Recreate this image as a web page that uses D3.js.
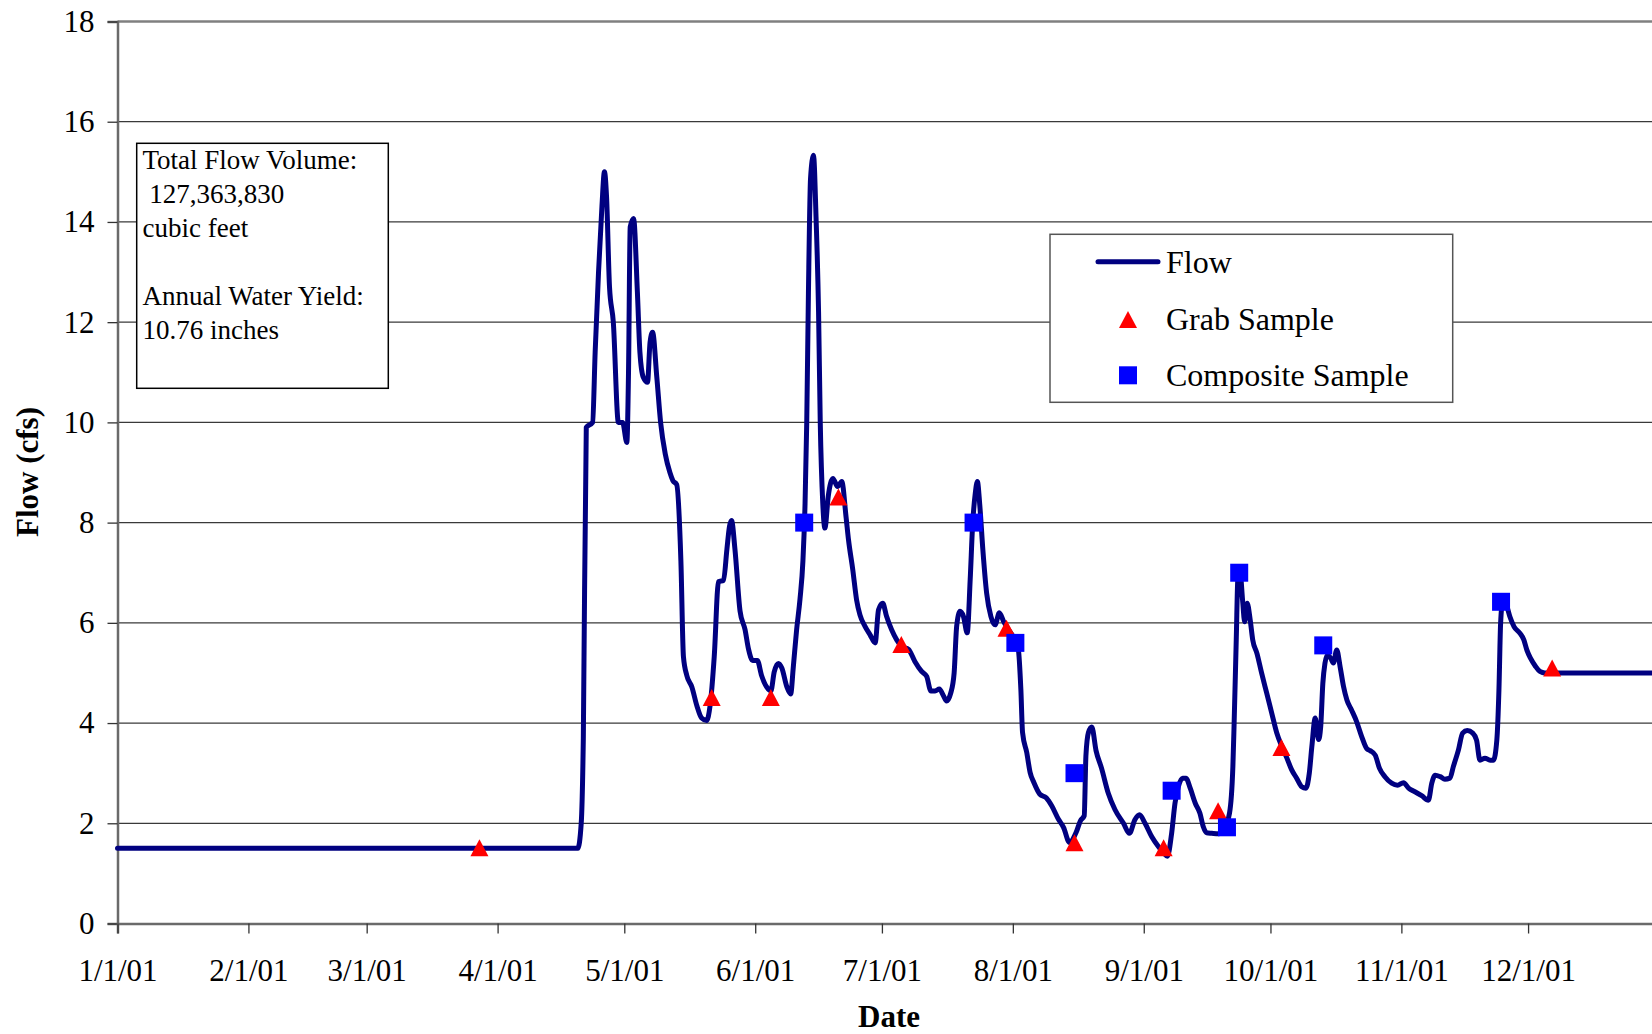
<!DOCTYPE html>
<html>
<head>
<meta charset="utf-8">
<script src="https://cdn.jsdelivr.net/npm/d3@7"></script>
<style>
  html, body { margin: 0; padding: 0; background: #fff; }
  svg { display: block; }
  text { font-family: "Liberation Serif", "Times New Roman", serif; fill: #000; }
</style>
</head>
<body>
<svg id="chart" width="1652" height="1034"></svg>
<script>
// ---- Data (day offsets from 1/1/01, flow in cfs) ----
const flowDays = [0, 109, 109.8, 110.3, 111.0, 112.5, 113.1, 113.9, 114.7, 115.3, 115.8, 116.5, 117.4, 118.6, 119.6,
  120.6, 121.0, 121.4, 122.2, 123.1, 123.7, 124.5, 125.5, 126.1, 126.7, 127.7, 128.6, 129.7, 130.8, 131.5, 132.4,
  133.4, 134.0, 134.8, 136.0, 137.2, 138.3, 139.5, 140.3, 141.3, 142.3, 143.5, 144.3, 144.9, 145.4, 146.2, 147.4,
  148.6, 149.4, 150.4, 151.5, 152.5, 153.7, 154.7, 155.5, 156.5, 157.3, 158.5, 159.4, 160.0, 160.8, 161.6, 162.3,
  162.8, 163.2, 163.6, 164.1, 164.8, 165.4, 166.0, 166.4, 167.0, 167.5, 168.3, 169.4, 170.5, 171.5, 172.5, 173.1,
  174.1, 175.0, 175.8, 177.0, 178.2, 179.4, 180.2, 181.2, 182.1, 183.3, 184.5, 185.7, 187.3, 188.8, 190.4, 191.6,
  192.6, 193.6, 194.6, 195.6, 196.3, 197.3, 198.1, 198.7, 199.5, 200.3, 201.2, 201.9, 202.5, 203.1, 203.6, 204.2,
  204.9, 205.8, 206.8, 207.8, 208.8, 209.8, 211.0, 212.5, 213.3, 213.9, 214.3, 215.3, 216.1, 217.0, 218.4, 219.9,
  221.2, 222.8, 224.0, 225.4, 227.0, 228.0, 228.9, 229.3, 229.9, 230.7, 231.7, 233.0, 234.6, 236.2, 238.2, 239.6,
  240.9, 242.0, 243.3, 244.9, 246.5, 247.8, 248.6, 249.6, 250.4, 251.2, 252.2, 253.0, 254.0, 255.2, 256.3, 257.1,
  257.9, 259.1, 260.7, 261.9, 263.3, 264.1, 264.4, 264.9, 265.3, 265.8, 266.4, 266.9, 267.5, 268.2, 268.8, 269.8,
  270.9, 272.1, 273.3, 274.5, 275.7, 276.9, 278.0, 279.2, 280.4, 281.4, 282.2, 282.8, 283.6, 284.4, 284.9, 285.4,
  285.9, 286.5, 287.3, 287.9, 288.7, 289.5, 290.3, 291.1, 292.2, 293.4, 294.6, 295.8, 296.6, 297.8, 298.8, 300.1,
  301.7, 303.1, 304.5, 305.7, 307.2, 308.8, 310.4, 311.2, 312.0, 313.2, 314.3, 315.5, 316.3, 317.5, 318.5, 319.6,
  320.9, 321.8, 322.6, 323.8, 325.0, 325.8, 326.6, 327.1, 327.5, 328.0, 329.0, 329.7, 330.7, 332.1, 333.0, 333.7,
  334.6, 335.7, 336.8, 338.0, 365];
const flowValues = [1.5, 1.5, 2.0, 3.7, 9.9, 10.0, 11.4, 13.0, 14.3, 15.0, 14.5, 12.7, 12.0, 10.0, 10.0,
  9.6, 11.0, 13.9, 14.07, 12.6, 11.4, 10.9, 10.8, 11.6, 11.8, 10.9, 10.0, 9.37, 9.0, 8.84, 8.76,
  7.24, 5.33, 4.95, 4.72, 4.34, 4.1, 4.05, 4.34, 5.33, 6.82, 6.85, 7.47, 7.92, 8.04, 7.47, 6.24,
  5.86, 5.48, 5.25, 5.25, 4.95, 4.72, 4.64, 5.02, 5.19, 5.1, 4.72, 4.58, 5.1, 5.86, 6.47, 7.24,
  8.38, 10.0, 12.58, 14.87, 15.33, 14.1, 12.2, 10.0, 8.38, 7.89, 8.53, 8.88, 8.72, 8.82, 8.12, 7.65,
  7.06, 6.46, 6.16, 5.93, 5.76, 5.6, 6.26, 6.39, 6.13, 5.86, 5.66, 5.53, 5.47, 5.23, 5.03, 4.93,
  4.64, 4.64, 4.68, 4.54, 4.44, 4.6, 5.0, 5.93, 6.23, 6.13, 5.8, 6.86, 7.99, 8.58, 8.82, 8.32,
  7.46, 6.59, 6.13, 5.96, 6.2, 6.03, 5.86, 5.66, 5.47, 4.67, 3.81, 3.41, 3.01, 2.81, 2.58, 2.51,
  2.35, 2.08, 1.92, 1.62, 1.82, 2.05, 2.15, 3.34, 3.81, 3.92, 3.45, 3.1, 2.6, 2.27, 2.0, 1.8,
  2.07, 2.17, 2.0, 1.73, 1.53, 1.4, 1.34, 1.8, 2.4, 2.73, 2.9, 2.9, 2.7, 2.4, 2.2, 1.93,
  1.81, 1.8, 1.79, 1.87, 2.2, 3.13, 4.0, 5.66, 6.92, 7.02, 6.45, 6.02, 6.39, 6.06, 5.66, 5.39,
  5.0, 4.6, 4.2, 3.8, 3.53, 3.3, 3.07, 2.9, 2.73, 2.7, 3.0, 3.53, 4.1, 3.67, 3.93, 4.79,
  5.19, 5.36, 5.29, 5.2, 5.46, 5.12, 4.73, 4.46, 4.26, 4.03, 3.73, 3.49, 3.45, 3.36, 3.1, 2.93,
  2.8, 2.76, 2.81, 2.7, 2.63, 2.55, 2.46, 2.8, 2.96, 2.93, 2.88, 2.9, 3.13, 3.46, 3.8, 3.85,
  3.8, 3.66, 3.26, 3.3, 3.26, 3.26, 3.66, 4.66, 6.0, 6.42, 6.32, 6.12, 5.92, 5.79, 5.66, 5.46,
  5.29, 5.14, 5.03, 5.0, 5.0];

const grabDays   = [85.7, 140.7, 154.7, 170.7, 185.6, 210.5, 226.6, 247.7, 260.6, 275.6, 339.7];
const grabValues = [1.5, 4.5, 4.5, 8.5, 5.56, 5.88, 1.6, 1.5, 2.24, 3.5, 5.09];

const compDays   = [162.6, 202.7, 212.6, 226.6, 249.6, 262.7, 265.6, 285.5, 327.6];
const compValues = [8.0, 8.0, 5.6, 3.0, 2.65, 1.92, 7.0, 5.55, 6.42];

const yTicks = [0, 2, 4, 6, 8, 10, 12, 14, 16, 18];
const legendLabels = ["Flow", "Grab Sample", "Composite Sample"];
const infoLines = ["Total Flow Volume:", "\u00a0127,363,830", "cubic feet", "", "Annual Water Yield:", "10.76 inches"];

// ---- Layout ----
const svg = d3.select("#chart");
const plotL = 117.5, plotR = 1659, plotT = 21.5, plotB = 923.5;
const startMs = Date.UTC(2001, 0, 1), endMs = Date.UTC(2002, 0, 1);
const toDate = d => new Date(startMs + d * 864e5);

const x = d3.scaleUtc().domain([new Date(startMs), new Date(endMs)]).range([plotL, plotR]);
const y = d3.scaleLinear().domain([0, 18]).range([plotB, plotT]);

// gridlines
svg.append("g").selectAll("line").data(yTicks.filter(t => t > 0 && t < 18)).join("line")
  .attr("x1", plotL).attr("x2", plotR).attr("y1", d => y(d)).attr("y2", d => y(d))
  .attr("stroke", "#3a3a3a").attr("stroke-width", 1.3);
// top border
svg.append("line").attr("x1", plotL).attr("x2", plotR).attr("y1", y(18)).attr("y2", y(18))
  .attr("stroke", "#808080").attr("stroke-width", 2.5);

// Y axis
const yAxis = d3.axisLeft(y).tickValues(yTicks).tickSize(10).tickPadding(13).tickFormat(d3.format("d"));
const gy = svg.append("g").attr("transform", `translate(${plotL},0)`).call(yAxis);
gy.select(".domain").attr("stroke", "#6a6a6a").attr("stroke-width", 2.5);
gy.selectAll(".tick line").attr("stroke", "#333").attr("stroke-width", 1.3);
gy.selectAll(".tick text").attr("font-family", "Liberation Serif").attr("font-size", 31).attr("fill", "#000");

// X axis
const months = d3.utcMonth.range(new Date(startMs), new Date(Date.UTC(2001, 11, 2)));
const xAxis = d3.axisBottom(x).tickValues(months).tickSize(10).tickPadding(25)
  .tickFormat(d3.utcFormat("%-m/%-d/%y"));
const gx = svg.append("g").attr("transform", `translate(0,${plotB})`).call(xAxis);
gx.select(".domain").attr("stroke", "#6a6a6a").attr("stroke-width", 2.5);
gx.selectAll(".tick line").attr("stroke", "#333").attr("stroke-width", 1.3);
gx.selectAll(".tick text").attr("font-family", "Liberation Serif").attr("font-size", 31).attr("fill", "#000");

// Axis titles
svg.append("text").attr("transform", "translate(38,472) rotate(-90)").attr("text-anchor", "middle")
  .attr("font-size", 31).attr("font-weight", "bold").text("Flow (cfs)");
svg.append("text").attr("x", 889).attr("y", 1027).attr("text-anchor", "middle")
  .attr("font-size", 31).attr("font-weight", "bold").text("Date");

// Flow line
const flowData = flowDays.map((d, i) => ({ date: toDate(d), v: flowValues[i] }));
const line = d3.line().x(d => x(d.date)).y(d => y(d.v)).curve(d3.curveMonotoneX);
svg.append("path").datum(flowData).attr("d", line)
  .attr("fill", "none").attr("stroke", "#000080").attr("stroke-width", 5)
  .attr("stroke-linejoin", "round").attr("stroke-linecap", "round");

// Markers
const tri = "M0,-9L9,8L-9,8Z";
const grabData = grabDays.map((d, i) => ({ date: toDate(d), v: grabValues[i] }));
const compData = compDays.map((d, i) => ({ date: toDate(d), v: compValues[i] }));
svg.append("g").selectAll("path").data(grabData).join("path")
  .attr("d", tri).attr("transform", d => `translate(${x(d.date)},${y(d.v)})`).attr("fill", "#ff0000");
svg.append("g").selectAll("rect").data(compData).join("rect")
  .attr("x", d => x(d.date) - 9).attr("y", d => y(d.v) - 9).attr("width", 18).attr("height", 18)
  .attr("fill", "#0000ff");

// Info box
svg.append("rect").attr("x", 136.7).attr("y", 143.3).attr("width", 251.6).attr("height", 245)
  .attr("fill", "#fff").attr("stroke", "#000").attr("stroke-width", 1.5);
svg.append("g").selectAll("text").data(infoLines).join("text")
  .attr("x", 142.5).attr("y", (d, i) => 168.5 + i * 34).attr("font-size", 27).text(d => d);

// Legend
const lg = svg.append("g");
lg.append("rect").attr("x", 1050).attr("y", 234.3).attr("width", 402.7).attr("height", 168)
  .attr("fill", "#fff").attr("stroke", "#555").attr("stroke-width", 1.5);
lg.append("line").attr("x1", 1098).attr("x2", 1158).attr("y1", 261.7).attr("y2", 261.7)
  .attr("stroke", "#000080").attr("stroke-width", 5).attr("stroke-linecap", "round");
lg.append("path").attr("d", tri).attr("transform", "translate(1128,320)").attr("fill", "#ff0000");
lg.append("rect").attr("x", 1119).attr("y", 366.3).attr("width", 18).attr("height", 18).attr("fill", "#0000ff");
const legY = [273.3, 330, 385.7];
lg.selectAll("text").data(legendLabels).join("text")
  .attr("x", 1166).attr("y", (d, i) => legY[i]).attr("font-size", 32).text(d => d);
</script>
</body>
</html>
